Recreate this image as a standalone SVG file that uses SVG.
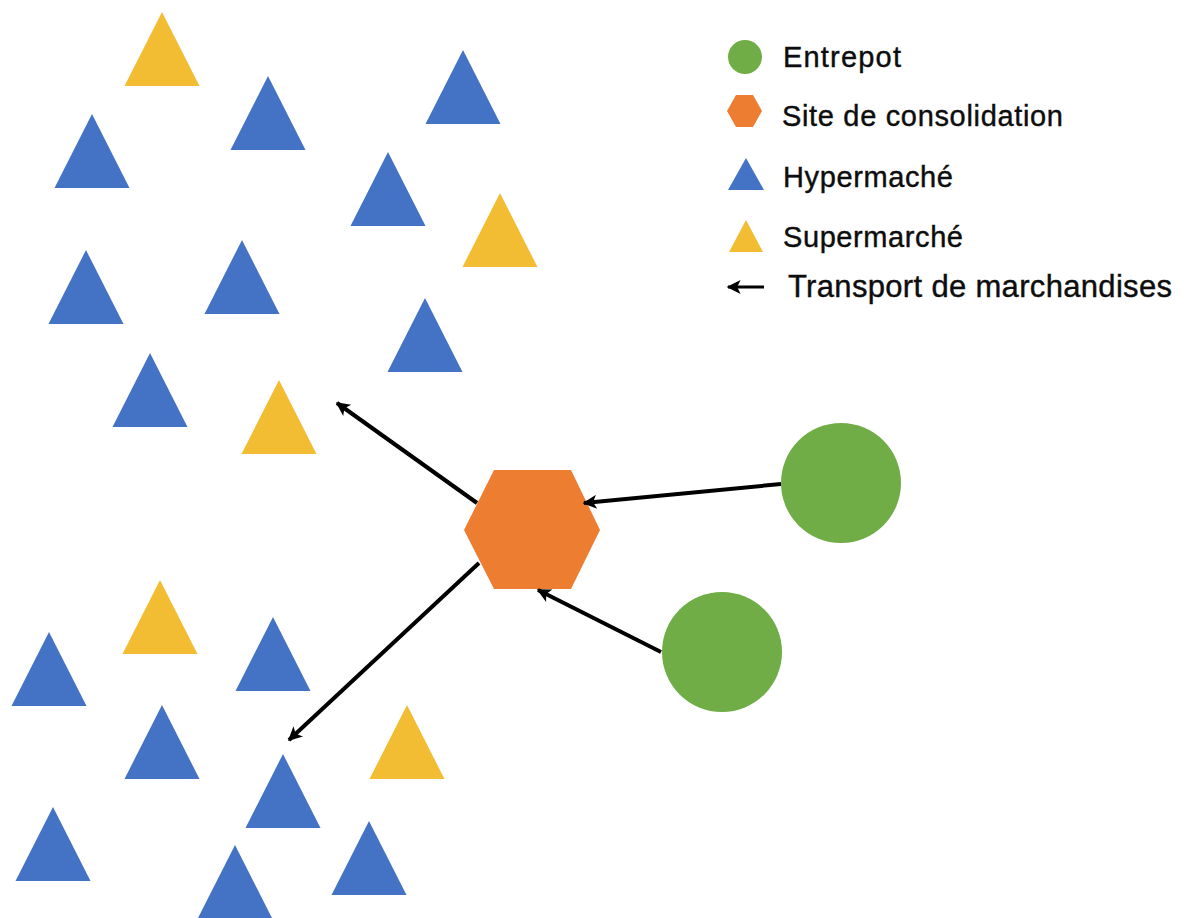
<svg xmlns="http://www.w3.org/2000/svg" xmlns:xlink="http://www.w3.org/1999/xlink" width="1184" height="918" viewBox="0 0 1184 918">
<style>
.hyper{fill:#4472C4}
.super{fill:#F3BD33}
.entrepot{fill:#70AD47}
.site{fill:#ED7D31}
.conn{stroke:#000;stroke-width:4;fill:none;marker-end:url(#arr)}
.lbl{font-family:"Liberation Sans",Arial,sans-serif;fill:#0d0d0d;stroke:#0d0d0d;stroke-width:0.4}
</style>
<defs>
<path id="tri" d="M0,0 L37.5,74 L-37.5,74 Z"/>
<marker id="arr" viewBox="0 0 10 10" refX="9" refY="5" markerWidth="17" markerHeight="14" markerUnits="userSpaceOnUse" orient="auto">
<path d="M0,0 L10,5 L0,10 L2.5,5 Z" fill="#000"/>
</marker>
</defs>
<rect width="1184" height="918" fill="#fff"/>

<g id="stores-top">
<use id="s1" href="#tri" class="super" x="162" y="12"/>
<use id="h1" href="#tri" class="hyper" x="268" y="76"/>
<use id="h2" href="#tri" class="hyper" x="463" y="50"/>
<use id="h3" href="#tri" class="hyper" x="92" y="114"/>
<use id="h4" href="#tri" class="hyper" x="388" y="152"/>
<use id="s2" href="#tri" class="super" x="500" y="193"/>
<use id="h5" href="#tri" class="hyper" x="86" y="250"/>
<use id="h6" href="#tri" class="hyper" x="242" y="240"/>
<use id="h7" href="#tri" class="hyper" x="425" y="298"/>
<use id="h8" href="#tri" class="hyper" x="150" y="353"/>
<use id="s3" href="#tri" class="super" x="279" y="380"/>
</g>

<g id="stores-bottom">
<use id="h9" href="#tri" class="hyper" x="49" y="632"/>
<use id="s4" href="#tri" class="super" x="160" y="580"/>
<use id="h10" href="#tri" class="hyper" x="273" y="617"/>
<use id="h11" href="#tri" class="hyper" x="162" y="705"/>
<use id="s5" href="#tri" class="super" x="407" y="705"/>
<use id="h12" href="#tri" class="hyper" x="283" y="754"/>
<use id="h13" href="#tri" class="hyper" x="53" y="807"/>
<use id="h14" href="#tri" class="hyper" x="235" y="845"/>
<use id="h15" href="#tri" class="hyper" x="369" y="821"/>
</g>

<g id="site-consolidation">
<polygon class="site" points="464,530 494,470 571,470 600,530 571,589 494,589"/>
</g>

<g id="entrepot-1">
<circle class="entrepot" cx="841" cy="483" r="60"/>
</g>
<g id="entrepot-2">
<circle class="entrepot" cx="722" cy="652" r="60"/>
</g>

<g id="connectors">
<line class="conn" x1="781" y1="484" x2="584" y2="503"/>
<line class="conn" x1="661" y1="652" x2="538" y2="590"/>
<line class="conn" x1="477" y1="503" x2="337" y2="403"/>
<line class="conn" x1="479" y1="563" x2="289" y2="740"/>
</g>

<g id="legend">
<g id="legend-entrepot">
<circle class="entrepot" cx="745" cy="57" r="17"/>
<text class="lbl" x="783" y="67" font-size="29" textLength="118">Entrepot</text>
</g>
<g id="legend-site">
<polygon class="site" points="727,111 736,95 753,95 762,111 753,127 736,127"/>
<text class="lbl" x="782" y="126" font-size="29" textLength="281">Site de consolidation</text>
</g>
<g id="legend-hyper">
<polygon class="hyper" points="746,158 764,190 728,190"/>
<text class="lbl" x="783" y="187" font-size="29" textLength="170">Hypermaché</text>
</g>
<g id="legend-super">
<polygon class="super" points="746,220 763,252 729,252"/>
<text class="lbl" x="783" y="247" font-size="29" textLength="180">Supermarché</text>
</g>
<g id="legend-transport">
<line class="conn" x1="764" y1="287" x2="728" y2="287" style="stroke-width:3"/>
<text class="lbl" x="788" y="297" font-size="31" textLength="384">Transport de marchandises</text>
</g>
</g>
</svg>
